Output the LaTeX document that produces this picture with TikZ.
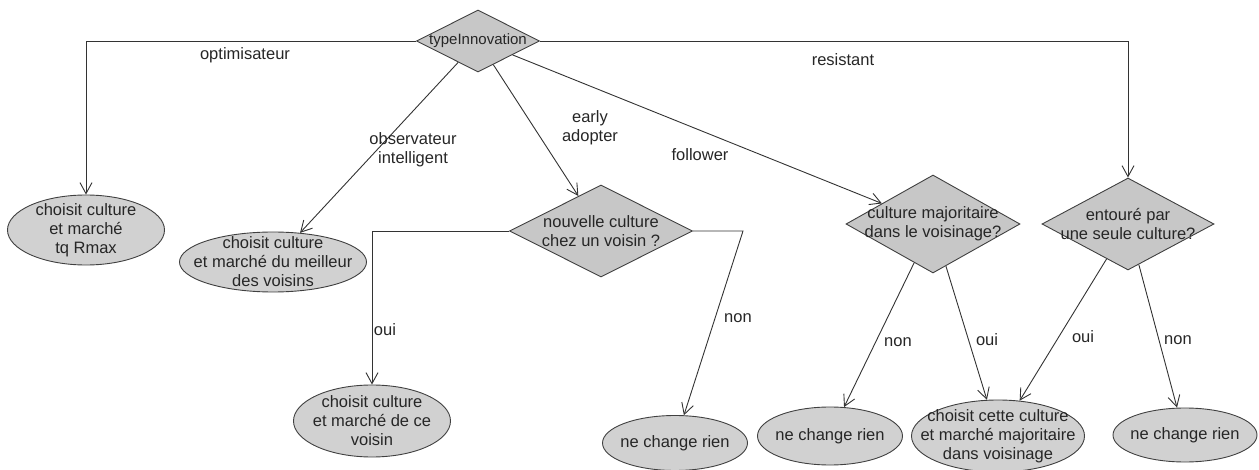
\documentclass[tikz,border=0pt]{standalone}
\usepackage{fontspec}
\setmainfont{Liberation Sans}
\usetikzlibrary{shapes.geometric,arrows.meta,calc}
\begin{document}
\begin{tikzpicture}[x=1pt,y=-1pt,
  font=\fontsize{16.5}{19}\selectfont,
  ell/.style={ellipse,draw=black!75,fill=black!18,line width=0.9pt,inner sep=0pt},
  dec/.style={diamond,draw=black!75,fill=black!22,line width=0.9pt,inner sep=0pt},
  txt/.style={align=center,inner sep=0pt,text=black!85},
  arr/.style={draw=black!80,line width=0.9pt,-{Straight Barb[length=11pt,width=12pt]}},
  lbl/.style={inner sep=1pt,align=center,text=black!85}]
\useasboundingbox (0,0) rectangle (1259,470);

% decisions
\node[dec,minimum width=123pt,minimum height=62pt,label={[txt,font=\fontsize{15}{19}\selectfont]center:typeInnovation}] (t) at (478,41) {};
\node[dec,minimum width=183pt,minimum height=92pt,label={[txt]center:{nouvelle culture\\chez un voisin ?}}] (d2) at (601,231) {};
\node[dec,minimum width=174pt,minimum height=98pt,label={[txt]center:{culture majoritaire\\dans le voisinage?}}] (d3) at (933,224) {};
\node[dec,minimum width=172pt,minimum height=92pt,label={[txt]center:{entouré par\\une seule culture?}}] (d4) at (1128,224) {};

% outcomes
\node[ell,minimum width=157pt,minimum height=70pt,label={[txt]center:{choisit culture\\et marché\\tq Rmax}}] (e1) at (86,230) {};
\node[ell,minimum width=187pt,minimum height=60pt,label={[txt]center:{choisit culture\\et marché du meilleur\\des voisins}}] (e2) at (273,262) {};
\node[ell,minimum width=157pt,minimum height=72pt,label={[txt]center:{choisit culture\\et marché de ce\\voisin}}] (e3) at (372,421) {};
\node[ell,minimum width=145pt,minimum height=55pt,label={[txt]center:ne change rien}] (e4) at (675,443) {};
\node[ell,minimum width=145pt,minimum height=58pt,label={[txt]center:ne change rien}] (e5) at (830,436) {};
\node[ell,minimum width=173pt,minimum height=72pt,label={[txt]center:{choisit cette culture\\et marché majoritaire\\dans voisinage}}] (e6) at (998,436) {};
\node[ell,minimum width=144pt,minimum height=54pt,label={[txt]center:ne change rien}] (e7) at (1185,435) {};

\coordinate (c1) at (743,231);

% connectors
\draw[arr] (t.west) -| (e1.north);
\draw[arr] (t.east) -| (d4.north);
\draw[arr] (t) -- (e2);
\draw[arr] (t) -- (d2);
\draw[arr] (t) -- (d3);
\draw[arr] (d2.west) -| (e3.north);
\draw[arr] (d2.east) -- (c1) -- (e4);
\draw[arr] (d3) -- (e5);
\draw[arr] (d3) -- (e6);
\draw[arr] (d4) -- (e6);
\draw[arr] (d4) -- ($(e7.north)+(-8,0)$);

% labels
\node[lbl] (l1) at (245,55) {optimisateur};
\node[lbl] (l2) at (843,60) {resistant};
\node[lbl] (l3) at (413,150) {observateur\\intelligent};
\node[lbl] (l4) at (590,128) {early\\adopter};
\node[lbl] (l5) at (700,155) {follower};
\node[lbl] (l6) at (385,330) {oui};
\node[lbl] (l7) at (738,318) {non};
\node[lbl] (l8) at (898,342) {non};
\node[lbl] (l9) at (987,340) {oui};
\node[lbl] (l10) at (1083,337) {oui};
\node[lbl] (l11) at (1178,340) {non};
\end{tikzpicture}
\end{document}
